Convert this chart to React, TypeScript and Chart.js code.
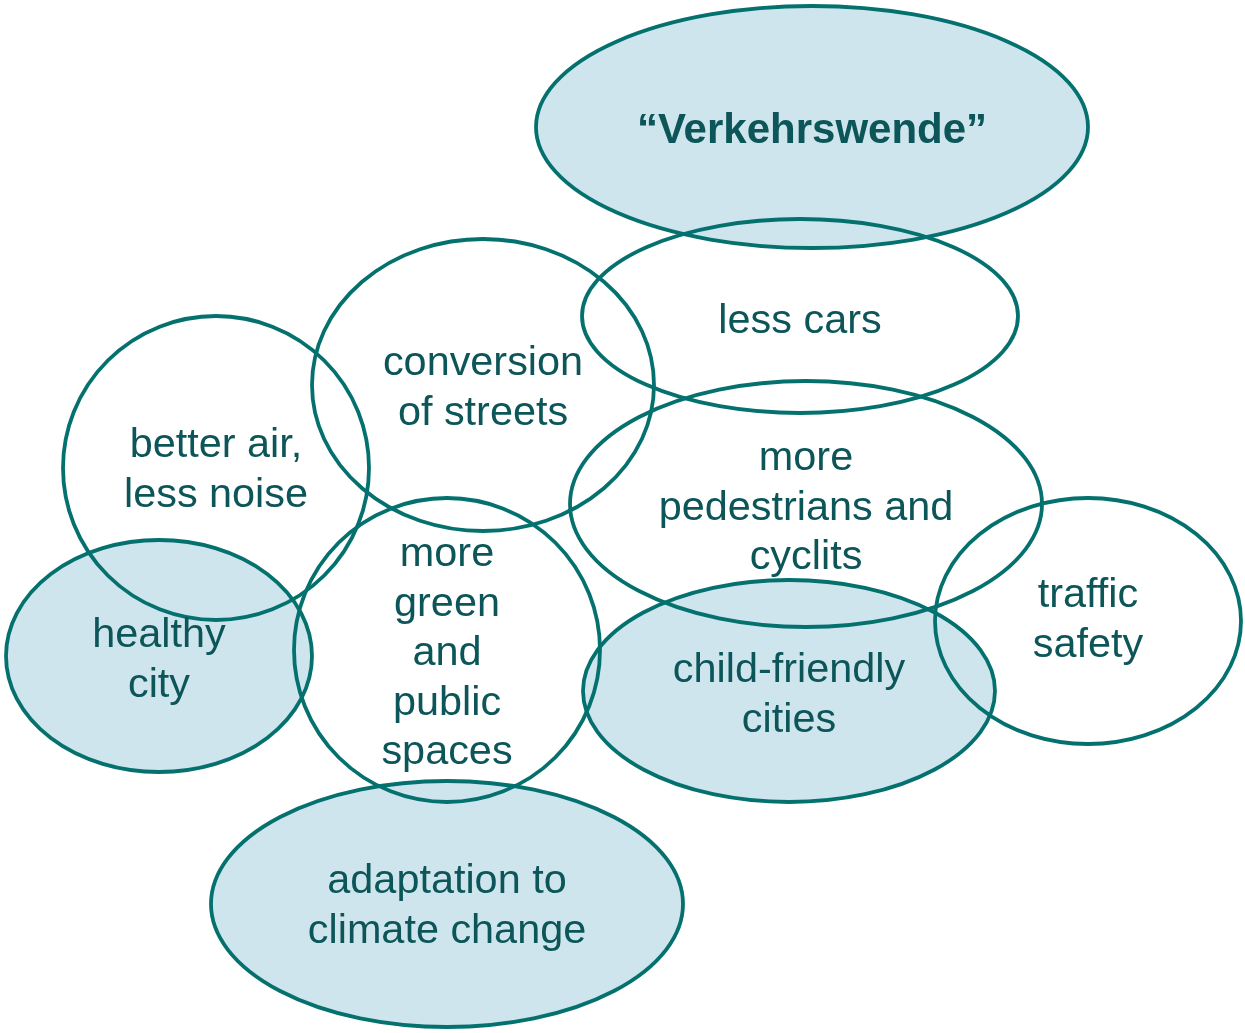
import React, { useEffect, useRef } from "react";
import { Chart, registerables } from "chart.js";

Chart.register(...registerables);

const labels: string[][] = [
  ["“Verkehrswende”"],
  ["less cars"],
  ["conversion", "of streets"],
  ["better air,", "less noise"],
  ["more", "pedestrians and", "cyclits"],
  ["healthy", "city"],
  ["more", "green", "and", "public", "spaces"],
  ["child-friendly", "cities"],
  ["traffic", "safety"],
  ["adaptation to", "climate change"],
];
const centerX = [812, 800, 483, 216, 806, 159, 447, 789, 1088, 447];
const centerY = [127, 316, 385, 468, 504, 656, 650, 691, 621, 904];
const radiusX = [276, 218, 171, 153, 236, 153, 153, 206, 153, 236];
const radiusY = [121, 97, 146, 152, 123, 116, 152, 111, 123, 123];
const filled = [true, false, false, false, false, true, false, true, false, true];
const bold = [true, false, false, false, false, false, false, false, false, false];
// baseline of first text line for each ellipse
const firstBaseline = [143, 333, 375, 457, 470, 647, 566, 682, 607, 893];
const lineGap = 49.5;

const FILL = "#cfe5ee";
const STROKE = "#04716f";
const TEXT = "#0c5558";

const ellipsePlugin = {
  id: "ellipses",
  afterDatasetsDraw(chart: any) {
    const ctx = chart.ctx as CanvasRenderingContext2D;
    const xs = chart.scales.x;
    const ys = chart.scales.y;
    const geom = centerX.map((cx, i) => {
      const px = xs.getPixelForValue(cx);
      const py = ys.getPixelForValue(centerY[i]);
      const rx = Math.abs(xs.getPixelForValue(cx + radiusX[i]) - px);
      const ry = Math.abs(ys.getPixelForValue(centerY[i] + radiusY[i]) - py);
      return { px, py, rx, ry };
    });
    ctx.save();
    geom.forEach((g, i) => {
      if (!filled[i]) return;
      ctx.beginPath();
      ctx.ellipse(g.px, g.py, g.rx, g.ry, 0, 0, Math.PI * 2);
      ctx.fillStyle = FILL;
      ctx.fill();
    });
    geom.forEach((g) => {
      ctx.beginPath();
      ctx.ellipse(g.px, g.py, g.rx, g.ry, 0, 0, Math.PI * 2);
      ctx.strokeStyle = STROKE;
      ctx.lineWidth = 3.8;
      ctx.stroke();
    });
    ctx.fillStyle = TEXT;
    ctx.textAlign = "center";
    ctx.textBaseline = "alphabetic";
    labels.forEach((lines, i) => {
      ctx.font = bold[i] ? `bold 42px "Liberation Sans", Arial, sans-serif` : `41.4px "Liberation Sans", Arial, sans-serif`;
      const px = xs.getPixelForValue(centerX[i]);
      lines.forEach((line, j) => {
        const py = ys.getPixelForValue(firstBaseline[i] + j * lineGap);
        ctx.fillText(line, px, py);
      });
    });
    ctx.restore();
  },
};

export default function App() {
  const ref = useRef<HTMLCanvasElement | null>(null);
  useEffect(() => {
    if (!ref.current) return;
    const chart = new Chart(ref.current, {
      type: "scatter",
      data: {
        datasets: [
          {
            label: "topics",
            data: centerX.map((x, i) => ({ x, y: centerY[i] })),
            pointRadius: 0,
            pointHoverRadius: 0,
          },
        ],
      },
      options: {
        animation: false,
        responsive: false,
        events: [],
        layout: { padding: 0 },
        plugins: { legend: { display: false }, tooltip: { enabled: false } },
        scales: {
          x: { type: "linear", min: 0, max: 1245, display: false },
          y: { type: "linear", min: 0, max: 1033, reverse: true, display: false },
        },
      },
      plugins: [ellipsePlugin],
    });
    return () => chart.destroy();
  }, []);
  return (
    <div style={{ position: "absolute", left: 0, top: 0, width: 1245, height: 1033, background: "#fff" }}>
      <canvas ref={ref} width={1245} height={1033} style={{ width: 1245, height: 1033 }} />
    </div>
  );
}
